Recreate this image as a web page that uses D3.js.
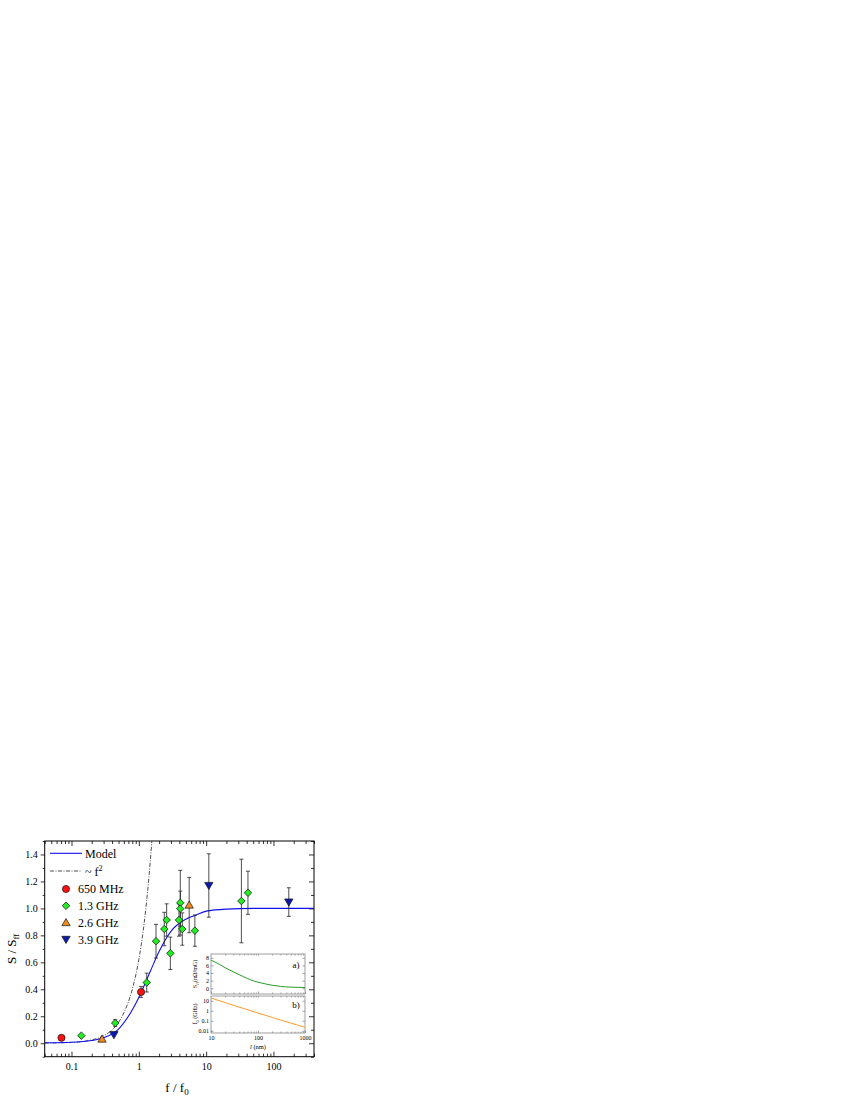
<!DOCTYPE html>
<html>
<head>
<meta charset="utf-8">
<script src="https://d3js.org/d3.v7.min.js"></script>
<style>
body { margin: 0; background: white; }
text { font-family: "Liberation Serif", "DejaVu Serif", serif; }
.axis path { stroke: none; }
.axis line { stroke: #000; stroke-width: 0.8; }
.inset .axis line { stroke: #666; stroke-width: 0.6; }
</style>
</head>
<body>
<script>
// ---- data ----
// each point: [f/f0, S/Sff, error]
var s650 = [[0.071, 0.04, 0], [1.08, 0.38, 0.04]];
var s1300 = [[0.14, 0.056, 0], [0.446, 0.15, 0.025], [1.31, 0.45, 0.07], [1.80, 0.757, 0.125],
  [2.39, 0.847, 0.124], [2.59, 0.914, 0.12], [2.94, 0.667, 0.12], [3.95, 0.914, 0.12],
  [4.13, 1.042, 0.24], [4.13, 0.998, 0.13], [4.42, 0.847, 0.12], [6.8, 0.835, 0.116],
  [33.4, 1.055, 0.31], [41.8, 1.116, 0.16]];
var s2600 = [[0.284, 0.031, 0], [5.6, 1.025, 0.205]];
var s3900 = [[0.427, 0.063, 0], [10.96, 1.17, 0.235], [169, 1.047, 0.106]];

var modelF = [0.04, 0.1, 0.2, 0.3, 0.5, 0.7, 1.0, 1.5, 2, 3, 5, 7, 10, 20, 50, 400];
var modelS = [0.003, 0.007, 0.02, 0.04, 0.105, 0.2, 0.34, 0.54, 0.68, 0.83, 0.92, 0.95, 0.98, 0.995, 1.0, 1.0];
var sqF = [0.04, 0.1, 0.2, 0.3, 0.45, 0.6, 0.8, 1.0, 1.2, 1.4, 1.7];
var sqS = [0.001, 0.006, 0.025, 0.055, 0.125, 0.225, 0.4, 0.62, 0.89, 1.21, 1.75];

var insetL = [10, 15, 20, 30, 50, 70, 100, 150, 200, 300, 500, 700, 1000];
var insetSff = [7.4, 6.3, 5.4, 4.3, 3.0, 2.2, 1.6, 1.1, 0.8, 0.5, 0.3, 0.25, 0.2];
var insetF0L = [10, 20, 30, 50, 100, 200, 300, 500, 1000];
var insetF0 = [19, 6.6, 3.5, 1.66, 0.59, 0.22, 0.12, 0.059, 0.022];

var xMajor = [0.1, 1, 10, 100];
var yMajor = [0, 0.2, 0.4, 0.6, 0.8, 1.0, 1.2, 1.4];

var legendItems = [
  {name: "650 MHz", color: "#ff1010", shape: "circle"},
  {name: "1.3 GHz", color: "#22ee22", shape: "diamond"},
  {name: "2.6 GHz", color: "#f08a1e", shape: "up"},
  {name: "3.9 GHz", color: "#0a1ab0", shape: "down"}
];
var series = [s650, s1300, s2600, s3900];

// ---- layout ----
var pLeft = 44.7, pRight = 314, pTop = 841, pBottom = 1056.7;

var svg = d3.select("body").append("svg").attr("width", 850).attr("height", 1100);

var x = d3.scaleLog().domain([0.04, 400]).range([pLeft, pRight]);
var y = d3.scaleLinear().domain([-0.1, 1.5]).range([pBottom, pTop]);

var xMinor = [];
[0.01, 0.1, 1, 10, 100].forEach(function(d) {
  for (var k = 2; k <= 9; k++) { var v = d * k; if (v >= 0.04 && v <= 400) xMinor.push(v); }
});
var yMinor = d3.range(-1, 16, 2).map(function(d) { return d / 10; });

svg.append("defs").append("clipPath").attr("id", "plotclip")
  .append("rect").attr("x", pLeft).attr("y", pTop).attr("width", pRight - pLeft).attr("height", pBottom - pTop);

// axes
function fmt1(d) { return d3.format(".1f")(d); }
svg.append("g").attr("class", "axis").attr("transform", "translate(0," + pBottom + ")")
  .call(d3.axisBottom(x).tickValues(xMajor).tickSize(-5).tickPadding(6).tickFormat(function(d) { return d; }))
  .selectAll("text").attr("font-size", 10).attr("fill", "#000");
svg.append("g").attr("class", "axis").attr("transform", "translate(0," + pBottom + ")")
  .call(d3.axisBottom(x).tickValues(xMinor).tickSize(-3).tickFormat(""));
svg.append("g").attr("class", "axis").attr("transform", "translate(0," + pTop + ")")
  .call(d3.axisTop(x).tickValues(xMajor).tickSize(-5).tickFormat(""));
svg.append("g").attr("class", "axis").attr("transform", "translate(0," + pTop + ")")
  .call(d3.axisTop(x).tickValues(xMinor).tickSize(-3).tickFormat(""));

svg.append("g").attr("class", "axis").attr("transform", "translate(" + pLeft + ",0)")
  .call(d3.axisLeft(y).tickValues(yMajor).tickSize(4).tickPadding(3).tickFormat(fmt1))
  .selectAll("text").attr("font-size", 10).attr("fill", "#000");
svg.append("g").attr("class", "axis").attr("transform", "translate(" + pLeft + ",0)")
  .call(d3.axisLeft(y).tickValues(yMinor).tickSize(2).tickFormat(""));
svg.append("g").attr("class", "axis").attr("transform", "translate(" + pRight + ",0)")
  .call(d3.axisRight(y).tickValues(yMajor).tickSize(-5).tickFormat(""));
svg.append("g").attr("class", "axis").attr("transform", "translate(" + pRight + ",0)")
  .call(d3.axisRight(y).tickValues(yMinor).tickSize(-3).tickFormat(""));

svg.append("rect").attr("x", pLeft).attr("y", pTop).attr("width", pRight - pLeft).attr("height", pBottom - pTop)
  .attr("fill", "none").attr("stroke", "#000").attr("stroke-width", 1);

// axis titles
var xt = svg.append("text").attr("x", 177).attr("y", 1092).attr("text-anchor", "middle").attr("font-size", 13);
xt.append("tspan").text("f / f");
xt.append("tspan").attr("font-size", 9).attr("dy", 3).text("0");
var yt = svg.append("text").attr("transform", "translate(16," + ((pTop + pBottom) / 2) + ") rotate(-90)")
  .attr("text-anchor", "middle").attr("font-size", 13);
yt.append("tspan").text("S / S");
yt.append("tspan").attr("font-size", 9).attr("dy", 3).text("ff");

// curves
var lineGen = d3.line().x(function(d) { return x(d[0]); }).y(function(d) { return y(d[1]); }).curve(d3.curveMonotoneX);
var plot = svg.append("g").attr("clip-path", "url(#plotclip)");
plot.append("path").datum(d3.zip(sqF, sqS)).attr("d", lineGen)
  .attr("fill", "none").attr("stroke", "#222").attr("stroke-width", 0.8).attr("stroke-dasharray", "4,1.5,1,1.5");
plot.append("path").datum(d3.zip(modelF, modelS)).attr("d", lineGen)
  .attr("fill", "none").attr("stroke", "#1010ee").attr("stroke-width", 1.1);

// marker helper
function symbolPath(shape) {
  if (shape == "circle") return d3.symbol().type(d3.symbolCircle).size(40)();
  if (shape == "diamond") return d3.symbol().type(d3.symbolSquare).size(28)();
  return d3.symbol().type(d3.symbolTriangle).size(30)();
}
function symbolRot(shape) {
  if (shape == "diamond") return 45;
  if (shape == "down") return 180;
  return 0;
}
function symbolDy(shape) {
  if (shape == "up") return 0.7;
  if (shape == "down") return -0.7;
  return 0;
}

// error bars then markers
series.forEach(function(s, i) {
  var eb = svg.append("g").attr("stroke", "#222").attr("stroke-width", 0.8);
  s.filter(function(d) { return d[2] > 0; }).forEach(function(d) {
    var cx = x(d[0]);
    eb.append("line").attr("x1", cx).attr("x2", cx).attr("y1", y(d[1] - d[2])).attr("y2", y(d[1] + d[2]));
    eb.append("line").attr("x1", cx - 2).attr("x2", cx + 2).attr("y1", y(d[1] - d[2])).attr("y2", y(d[1] - d[2]));
    eb.append("line").attr("x1", cx - 2).attr("x2", cx + 2).attr("y1", y(d[1] + d[2])).attr("y2", y(d[1] + d[2]));
  });
});
series.forEach(function(s, i) {
  var item = legendItems[i];
  svg.append("g").selectAll("path").data(s).enter().append("path")
    .attr("d", symbolPath(item.shape))
    .attr("transform", function(d) { return "translate(" + x(d[0]) + "," + (y(d[1]) + symbolDy(item.shape)) + ") rotate(" + symbolRot(item.shape) + ")"; })
    .attr("fill", item.color).attr("stroke", "#111").attr("stroke-width", 0.7);
});

// legend
var lg = svg.append("g");
lg.append("line").attr("x1", 50).attr("x2", 82).attr("y1", 853.3).attr("y2", 853.3).attr("stroke", "#1010ee").attr("stroke-width", 1.1);
lg.append("text").attr("x", 85).attr("y", 857.5).attr("font-size", 12).text("Model");
lg.append("line").attr("x1", 50).attr("x2", 82).attr("y1", 871).attr("y2", 871).attr("stroke", "#222").attr("stroke-width", 0.8).attr("stroke-dasharray", "4,1.5,1,1.5");
var sq = lg.append("text").attr("x", 85).attr("y", 876).attr("font-size", 12);
sq.append("tspan").text("~ f");
sq.append("tspan").attr("font-size", 8).attr("dy", -5).text("2");
legendItems.forEach(function(item, i) {
  var ly = 889 + i * 16.8;
  lg.append("path").attr("d", symbolPath(item.shape))
    .attr("transform", "translate(66," + (ly + symbolDy(item.shape)) + ") rotate(" + symbolRot(item.shape) + ")")
    .attr("fill", item.color).attr("stroke", "#111").attr("stroke-width", 0.7);
  lg.append("text").attr("x", 78).attr("y", ly + 4.2).attr("font-size", 12).text(item.name);
});

// ---- inset ----
var inset = svg.append("g").attr("class", "inset");
var ix = d3.scaleLog().domain([10, 1000]).range([211, 305]);
var iya = d3.scaleLinear().domain([-1.5, 9]).range([994, 954]);
var iyb = d3.scaleLog().domain([0.006, 30]).range([1033, 996]);

inset.append("rect").attr("x", 211).attr("y", 954).attr("width", 94).attr("height", 40).attr("fill", "white");
inset.append("rect").attr("x", 211).attr("y", 996).attr("width", 94).attr("height", 37).attr("fill", "white");

var ixMinor = [];
[10, 100].forEach(function(d) { for (var k = 2; k <= 9; k++) ixMinor.push(d * k); });

function insetAxes(yScale, yTop, yBot, yTicks, yFmt, showX) {
  inset.append("g").attr("class", "axis").attr("transform", "translate(0," + yBot + ")")
    .call(d3.axisBottom(ix).tickValues([10, 100, 1000]).tickSize(-2.5).tickPadding(3).tickFormat(showX ? function(d) { return d; } : ""))
    .selectAll("text").attr("font-size", 6).attr("fill", "#000");
  inset.append("g").attr("class", "axis").attr("transform", "translate(0," + yBot + ")")
    .call(d3.axisBottom(ix).tickValues(ixMinor).tickSize(-1.5).tickFormat(""));
  inset.append("g").attr("class", "axis").attr("transform", "translate(0," + yTop + ")")
    .call(d3.axisTop(ix).tickValues(ixMinor.concat([100])).tickSize(-1.5).tickFormat(""));
  inset.append("g").attr("class", "axis").attr("transform", "translate(211,0)")
    .call(d3.axisLeft(yScale).tickValues(yTicks).tickSize(-2.5).tickPadding(2).tickFormat(yFmt))
    .selectAll("text").attr("font-size", 6).attr("fill", "#000");
  inset.append("g").attr("class", "axis").attr("transform", "translate(305,0)")
    .call(d3.axisRight(yScale).tickValues(yTicks).tickSize(-2.5).tickFormat(""));
  inset.append("rect").attr("x", 211).attr("y", yTop).attr("width", 94).attr("height", yBot - yTop)
    .attr("fill", "none").attr("stroke", "#888").attr("stroke-width", 0.8);
}
insetAxes(iya, 954, 994, [0, 2, 4, 6, 8], function(d) { return d; }, false);
insetAxes(iyb, 996, 1033, [0.01, 0.1, 1, 10], function(d) { return d; }, true);

inset.append("path").datum(d3.zip(insetL, insetSff))
  .attr("d", d3.line().x(function(d) { return ix(d[0]); }).y(function(d) { return iya(d[1]); }).curve(d3.curveMonotoneX))
  .attr("fill", "none").attr("stroke", "#2a9a2a").attr("stroke-width", 1);
inset.append("path").datum(d3.zip(insetF0L, insetF0))
  .attr("d", d3.line().x(function(d) { return ix(d[0]); }).y(function(d) { return iyb(d[1]); }).curve(d3.curveMonotoneX))
  .attr("fill", "none").attr("stroke", "#ff9a2a").attr("stroke-width", 1);

inset.append("text").attr("x", 296).attr("y", 968).attr("font-size", 9).attr("text-anchor", "middle").text("a)");
inset.append("text").attr("x", 296).attr("y", 1008).attr("font-size", 9).attr("text-anchor", "middle").text("b)");

var la = inset.append("text").attr("transform", "translate(197,974) rotate(-90)").attr("text-anchor", "middle").attr("font-size", 6);
la.append("tspan").text("S");
la.append("tspan").attr("font-size", 4.5).attr("dy", 1.5).text("ff");
la.append("tspan").attr("dy", -1.5).text("(nΩ/mG)");
var lb = inset.append("text").attr("transform", "translate(197,1014) rotate(-90)").attr("text-anchor", "middle").attr("font-size", 6);
lb.append("tspan").text("f");
lb.append("tspan").attr("font-size", 4.5).attr("dy", 1.5).text("0");
lb.append("tspan").attr("dy", -1.5).text(" (GHz)");
var lx = inset.append("text").attr("x", 258).attr("y", 1049).attr("text-anchor", "middle").attr("font-size", 6.5);
lx.append("tspan").attr("font-style", "italic").text("l");
lx.append("tspan").text(" (nm)");
</script>
</body>
</html>
